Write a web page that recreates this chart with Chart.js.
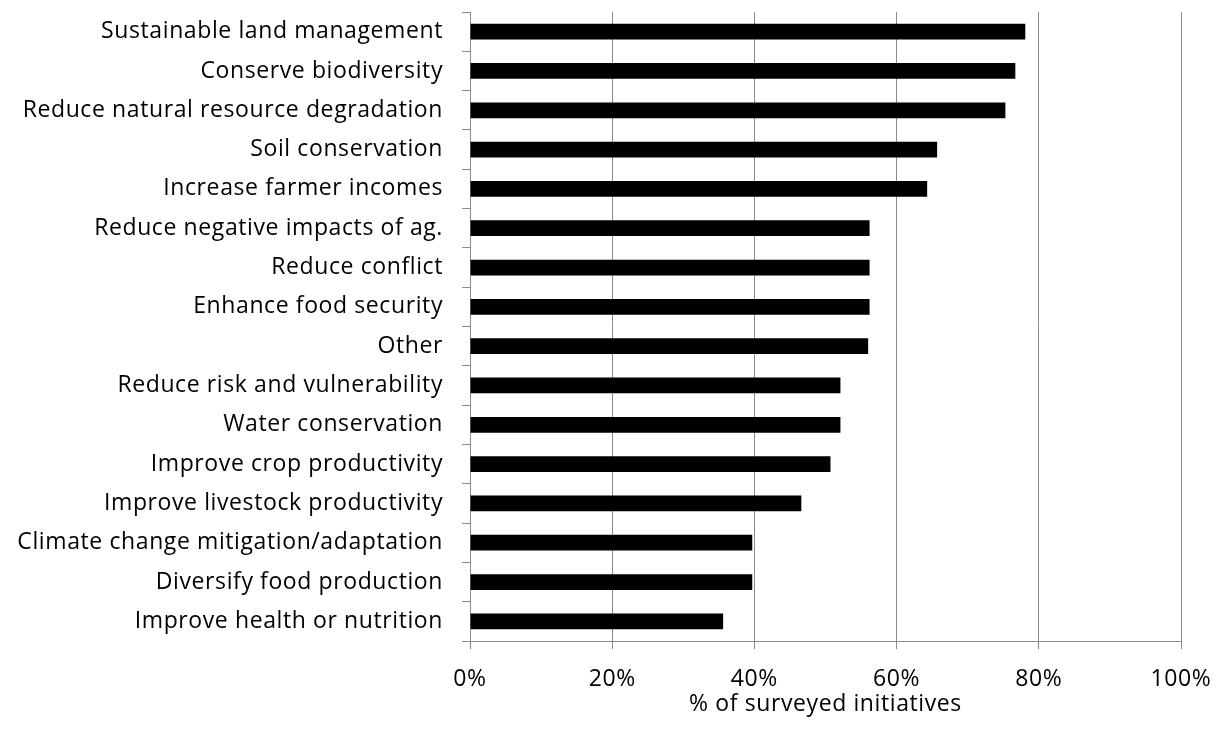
<!DOCTYPE html>
<html>
<head>
<meta charset="utf-8">
<script src="https://cdn.jsdelivr.net/npm/chart.js@4"></script>
<style>
    html, body { margin: 0; padding: 0; background: #ffffff; }
    #wrap { width: 1221px; height: 734px; }
</style>
</head>
<body>
<div id="wrap"><canvas id="chart" width="1221" height="734"></canvas></div>
<script>
// Data
const categories = [
    'Sustainable land management',
    'Conserve biodiversity',
    'Reduce natural resource degradation',
    'Soil conservation',
    'Increase farmer incomes',
    'Reduce negative impacts of ag.',
    'Reduce conflict',
    'Enhance food security',
    'Other',
    'Reduce risk and vulnerability',
    'Water conservation',
    'Improve crop productivity',
    'Improve livestock productivity',
    'Climate change mitigation/adaptation',
    'Diversify food production',
    'Improve health or nutrition'
];
const shares = [78.1, 76.7, 75.3, 65.7, 64.3, 56.2, 56.2, 56.2, 56.0, 52.1, 52.1, 50.7, 46.6, 39.7, 39.7, 35.6];
const xTickValues = [0, 20, 40, 60, 80, 100];
const xAxisTitle = '% of surveyed initiatives';

// Styles
const FONT = '"Open Sans"';
const FONT_SIZE = 23;
const LETTER_SPACING = '0.6px';
const AXIS_GREY = '#8a8a8a';

// Calibri-like width: widen the canvas text a little
const spacingPlugin = {
    id: 'spacing',
    beforeUpdate: (chart) => { chart.ctx.letterSpacing = LETTER_SPACING; },
    beforeDraw: (chart) => { chart.ctx.letterSpacing = LETTER_SPACING; }
};

const ctx = document.getElementById('chart').getContext('2d');

new Chart(ctx, {
    type: 'bar',
    data: {
        labels: categories,
        datasets: [{
            data: shares,
            backgroundColor: '#000000',
            borderWidth: 0,
            barPercentage: 0.4,
            categoryPercentage: 1.0
        }]
    },
    plugins: [spacingPlugin],
    options: {
        indexAxis: 'y',
        responsive: false,
        animation: false,
        devicePixelRatio: 1,
        layout: {
            padding: { left: 0, top: 12, right: 40, bottom: 0 }
        },
        plugins: {
            legend: { display: false },
            tooltip: { enabled: false }
        },
        scales: {
            x: {
                min: 0,
                max: 100,
                afterBuildTicks: (scale) => {
                    scale.ticks = xTickValues.map(v => ({ value: v }));
                },
                afterFit: (scale) => {
                    scale.height = 93;
                    scale.paddingLeft = 0;
                    scale.paddingRight = 0;
                },
                grid: { color: AXIS_GREY, lineWidth: 1, tickLength: 8 },
                border: { color: AXIS_GREY, width: 1 },
                ticks: {
                    color: '#000',
                    padding: 17,
                    font: { family: FONT, size: FONT_SIZE },
                    callback: v => v + '%'
                },
                title: {
                    display: true,
                    text: xAxisTitle,
                    color: '#000',
                    font: { family: FONT, size: FONT_SIZE },
                    padding: { top: 4, bottom: 16 }
                }
            },
            y: {
                afterFit: (scale) => {
                    scale.width = 470;
                    scale.paddingTop = 0;
                    scale.paddingBottom = 0;
                },
                grid: {
                    display: true,
                    drawOnChartArea: false,
                    drawTicks: true,
                    tickLength: 8,
                    offset: true,
                    color: AXIS_GREY
                },
                border: { color: AXIS_GREY, width: 1 },
                ticks: {
                    color: '#000',
                    padding: 19,
                    autoSkip: false,
                    font: { family: FONT, size: FONT_SIZE }
                }
            }
        }
    }
});
</script>
</body>
</html>
